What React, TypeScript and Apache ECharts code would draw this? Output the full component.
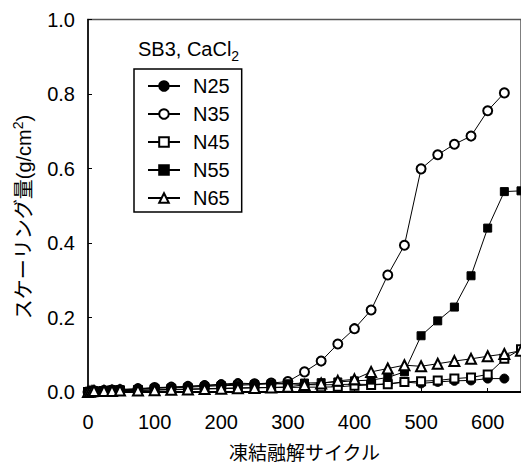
import React, { useEffect, useRef } from "react";
import * as echarts from "echarts";

const cycles = [0, 3, 6, 9, 24, 36, 48, 75, 100, 125, 150, 175, 200, 225, 250, 275, 300, 325, 350, 375, 400, 425, 450, 475, 500, 525, 550, 575, 600, 625, 650];

const n25 = [0, 0.002, 0.003, 0.004, 0.005, 0.006, 0.007, 0.008, 0.011, 0.013, 0.015, 0.018, 0.021, 0.024, 0.022, 0.023, 0.022, 0.02, 0.019, 0.02, 0.021, 0.02, 0.022, 0.027, 0.023, 0.027, 0.03, 0.031, 0.036, 0.036, null];
const n35 = [0, 0.001, 0.002, 0.003, 0.004, 0.005, 0.006, 0.009, 0.012, 0.013, 0.015, 0.017, 0.019, 0.021, 0.022, 0.024, 0.028, 0.054, 0.083, 0.129, 0.17, 0.22, 0.314, 0.394, 0.599, 0.637, 0.665, 0.687, 0.755, 0.803, null];
const n45 = [0, 0.001, 0.002, 0.002, 0.003, 0.004, 0.004, 0.005, 0.006, 0.007, 0.008, 0.009, 0.01, 0.011, 0.012, 0.012, 0.012, 0.013, 0.013, 0.014, 0.017, 0.019, 0.021, 0.027, 0.029, 0.031, 0.036, 0.039, 0.047, 0.089, 0.115];
const n55 = [0, 0.001, 0.002, 0.003, 0.004, 0.005, 0.006, 0.007, 0.01, 0.011, 0.013, 0.015, 0.017, 0.018, 0.02, 0.022, 0.022, 0.024, 0.025, 0.027, 0.03, 0.032, 0.039, 0.054, 0.151, 0.191, 0.228, 0.312, 0.44, 0.538, 0.54];
const n65 = [0, 0.001, 0.002, 0.003, 0.003, 0.003, 0.004, 0.004, 0.005, 0.006, 0.007, 0.008, 0.009, 0.01, 0.011, 0.012, 0.014, 0.019, 0.023, 0.03, 0.034, 0.054, 0.063, 0.072, 0.069, 0.076, 0.083, 0.089, 0.096, 0.102, 0.111];

const seriesNames = ["N25", "N35", "N45", "N55", "N65"];
const seriesValues = [n25, n35, n45, n55, n65];
const seriesSymbols = ["circle", "emptyCircle", "emptyRect", "rect", "emptyTriangle"];
const seriesSizes = [9, 9, 8, 8, 10];

const xTicks = [0, 100, 200, 300, 400, 500, 600];
const yTicks = [0, 0.2, 0.4, 0.6, 0.8, 1.0];

const FONT = "'Liberation Sans', Arial, 'Noto Sans CJK JP', sans-serif";
const CJK = "'Liberation Sans', 'Noto Sans CJK JP', sans-serif";

export default function App() {
  const ref = useRef<HTMLDivElement>(null);
  useEffect(() => {
    if (!ref.current) return;
    const chart = echarts.init(ref.current, undefined, { renderer: "svg" });
    const series = seriesNames.map((name, i) => ({
      name,
      type: "line",
      data: cycles.map((c, j) => [c, seriesValues[i][j]]),
      symbol: seriesSymbols[i],
      symbolSize: seriesSizes[i],
      showAllSymbol: true,
      connectNulls: false,
      lineStyle: { color: "#000", width: 1 },
      itemStyle: { color: "#000", borderColor: "#000", borderWidth: 1 },
      emphasis: { disabled: true },
      z: 2 + i,
    }));
    chart.setOption({
      animation: false,
      backgroundColor: "#fff",
      grid: {
        left: 88,
        top: 19.5,
        width: 435,
        height: 377.5,
        show: true,
        borderColor: "#555",
        borderWidth: 1.5,
      },
      xAxis: {
        type: "value",
        min: 0,
        max: 650,
        interval: 100,
        name: "凍結融解サイクル",
        nameLocation: "middle",
        nameGap: 52,
        nameTextStyle: { fontFamily: CJK, fontSize: 19, color: "#000" },
        axisLine: { show: true, lineStyle: { color: "#000", width: 2 } },
        axisTick: { show: true, inside: true, length: 4, lineStyle: { color: "#000", width: 1 } },
        axisLabel: {
          show: true,
          margin: 20,
          fontFamily: FONT,
          fontSize: 20,
          color: "#000",
          showMaxLabel: false,
          formatter: (v: number) => (xTicks.includes(v) ? String(v) : ""),
        },
        splitLine: { show: false },
      },
      yAxis: {
        type: "value",
        min: 0,
        max: 1.0,
        interval: 0.2,
        axisLine: { show: true, lineStyle: { color: "#000", width: 1.5 } },
        axisTick: { show: true, inside: true, length: 4, lineStyle: { color: "#000", width: 1 } },
        axisLabel: {
          margin: 13,
          fontFamily: FONT,
          fontSize: 20,
          color: "#000",
          formatter: (v: number) => {
            const t = yTicks.find((y) => Math.abs(y - v) < 1e-6);
            return t === undefined ? "" : t.toFixed(1);
          },
        },
        splitLine: { show: false },
      },
      legend: {
        data: seriesNames,
        orient: "vertical",
        left: 134,
        top: 69,
        padding: [7, 12, 4, 13],
        itemGap: 8,
        itemWidth: 32,
        itemHeight: 12,
        borderColor: "#000",
        borderWidth: 1.5,
        backgroundColor: "#fff",
        selectedMode: false,
        textStyle: { fontFamily: FONT, fontSize: 20, color: "#000", padding: [0, 0, 0, 8] },
      },
      graphic: [
        {
          type: "text",
          left: 138,
          top: 39,
          style: {
            text: "{a|SB3, CaCl}{b|2}",
            rich: {
              a: { fontFamily: FONT, fontSize: 20, fill: "#000", color: "#000", lineHeight: 27 },
              b: { fontFamily: FONT, fontSize: 14, fill: "#000", color: "#000", verticalAlign: "bottom", lineHeight: 20 },
            },
          },
        },
        {
          type: "text",
          x: 24,
          y: 217,
          rotation: Math.PI / 2,
          style: {
            text: "{a|スケーリング量(g/cm}{s|2}{a|)}",
            align: "center",
            verticalAlign: "middle",
            rich: {
              a: { fontFamily: CJK, fontSize: 20, fill: "#000", color: "#000", lineHeight: 26 },
              s: { fontFamily: FONT, fontSize: 14, fill: "#000", color: "#000", verticalAlign: "top", lineHeight: 18 },
            },
          },
        },
      ],
      series,
    });
    return () => chart.dispose();
  }, []);
  return (
    <div
      ref={ref}
      style={{ position: "fixed", left: 0, top: 0, width: 521, height: 468, background: "#fff" }}
    />
  );
}
